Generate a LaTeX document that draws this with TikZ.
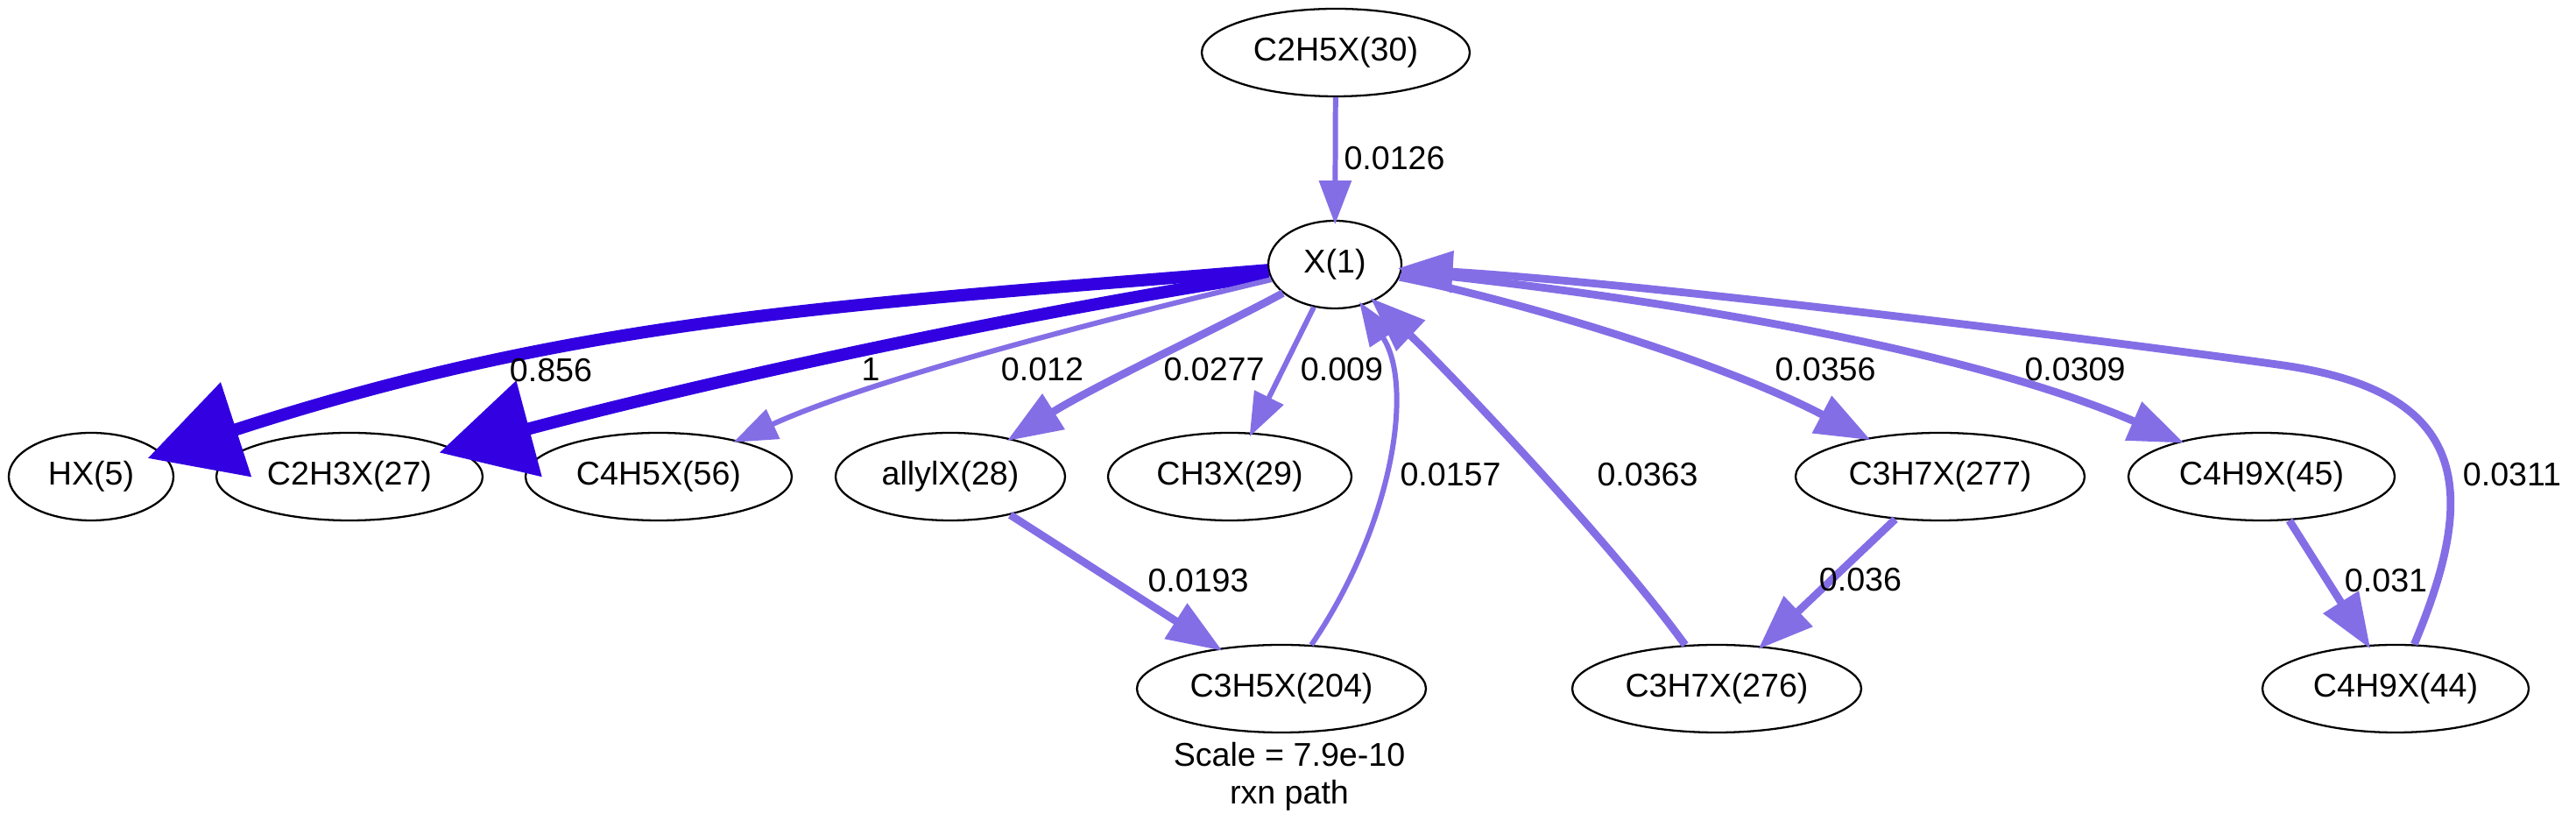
\documentclass[tikz,border=0pt]{standalone}
\usepackage{fontspec}
\setmainfont{Liberation Sans}
\usepackage{tikz}
\usetikzlibrary{shapes.geometric,arrows.meta}
\definecolor{fluxdark}{RGB}{50,0,225}
\definecolor{fluxlight}{RGB}{132,110,230}
\tikzset{
	spec/.style={ellipse,draw,line width=0.65pt,inner sep=0pt,minimum height=1cm,minimum width=#1},
	lbl/.style={inner sep=0pt},
	thinflux/.style={draw=fluxlight,line width=1.7pt,-{Triangle[length=0.5cm,width=0.36cm]},shorten >=-1.5pt},
	midflux/.style={draw=fluxlight,line width=2.5pt,-{Triangle[length=0.63cm,width=0.46cm]},shorten >=-1.5pt},
	bigflux/.style={draw=fluxdark,line width=4pt,-{Triangle[length=1.06cm,width=1.1cm]},shorten >=-5pt}
}
\begin{document}
\begin{tikzpicture}[font=\fontsize{10.7}{12.2}\selectfont]
						\path[use as bounding box,fill=white] (0,0) rectangle (29.41,9.53);

						% species
						\node [spec=3.06cm] (C2H5X30) at (15.25,8.93) {C2H5X(30)};
						\node [spec=1.52cm] (X1) at (15.24,6.51) {X(1)};
						\node [spec=1.88cm] (HX5) at (1.04,4.09) {HX(5)};
						\node [spec=3.04cm] (C2H3X27) at (3.99,4.09) {C2H3X(27)};
						\node [spec=3.04cm] (C4H5X56) at (7.52,4.09) {C4H5X(56)};
						\node [spec=2.62cm] (allylX28) at (10.85,4.09) {allylX(28)};
						\node [spec=2.78cm] (CH3X29) at (14.04,4.09) {CH3X(29)};
						\node [spec=3.30cm] (C3H7X277) at (22.15,4.09) {C3H7X(277)};
						\node [spec=3.04cm] (C4H9X45) at (25.82,4.09) {C4H9X(45)};
						\node [spec=3.30cm] (C3H5X204) at (14.63,1.67) {C3H5X(204)};
						\node [spec=3.30cm] (C3H7X276) at (19.60,1.67) {C3H7X(276)};
						\node [spec=3.04cm] (C4H9X44) at (27.35,1.67) {C4H9X(44)};

						\node [lbl,align=center] (scale) at (14.72,0.67) {Scale = 7.9e-10\\rxn path};

						% fluxes
						\draw [bigflux] (X1) .. controls (9.49,6.04) and (6.58,5.89) .. (HX5);
						\draw [bigflux] (X1) .. controls (11.50,5.93) and (8.00,5.16) .. (C2H3X27);
						\draw [thinflux] (X1) .. controls (13.00,5.98) and (10.00,5.23) .. (C4H5X56);
						\draw [midflux] (X1) .. controls (14.00,5.83) and (12.50,5.13) .. (allylX28);
						\draw [thinflux] (X1) -- (CH3X29);
						\draw [thinflux] (C2H5X30) -- (X1);
						\draw [thinflux] (C3H5X204) .. controls (15.90,3.53) and (16.15,5.13) .. (X1);
						\draw [midflux] (C3H7X276) .. controls (18.40,3.33) and (16.50,5.33) .. (X1);
						\draw [midflux] (X1) .. controls (17.20,6.13) and (19.60,5.43) .. (C3H7X277);
						\draw [midflux] (X1) .. controls (19.00,6.13) and (22.50,5.53) .. (C4H9X45);
						\draw [midflux] (C4H9X44) .. controls (28.30,3.93) and (28.20,5.05) .. (26.07,5.36)
							.. controls (24.59,5.57) and (19.00,6.28) .. (X1);
						\draw [midflux] (allylX28) -- (C3H5X204);
						\draw [midflux] (C3H7X277) -- (C3H7X276);
						\draw [midflux] (C4H9X45) -- (C4H9X44);

						% flux values
						\node [lbl] (v856) at (6.29,5.30) {0.856};
						\node [lbl] (v1) at (9.94,5.31) {1};
						\node [lbl] (v012) at (11.90,5.31) {0.012};
						\node [lbl] (v0277) at (13.86,5.31) {0.0277};
						\node [lbl] (v009) at (15.32,5.31) {0.009};
						\node [lbl] (v0126) at (15.92,7.72) {0.0126};
						\node [lbl] (v0356) at (20.84,5.31) {0.0356};
						\node [lbl] (v0309) at (23.69,5.31) {0.0309};
						\node [lbl] (v0157) at (16.56,4.11) {0.0157};
						\node [lbl] (v0363) at (18.81,4.11) {0.0363};
						\node [lbl] (v0311) at (28.68,4.11) {0.0311};
						\node [lbl] (v031) at (27.24,2.90) {0.031};
						\node [lbl] (v0193) at (13.68,2.90) {0.0193};
						\node [lbl] (v036) at (21.24,2.91) {0.036};
					\end{tikzpicture}
\end{document}
